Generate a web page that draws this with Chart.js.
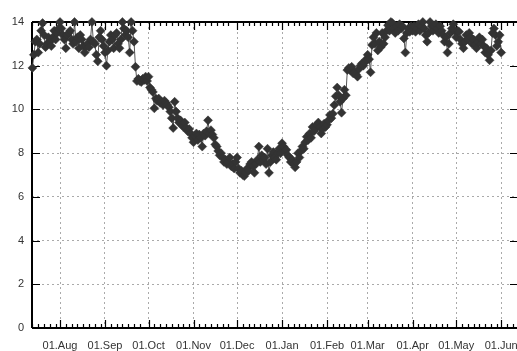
<!DOCTYPE html>
<html>
<head>
<meta charset="utf-8">
<script src="https://cdn.jsdelivr.net/npm/chart.js@4/dist/chart.umd.min.js"></script>
<style>
  html, body { margin: 0; padding: 0; background: #fff; overflow: hidden; }
  #wrap { width: 517px; height: 351px; overflow: hidden; }
</style>
</head>
<body>
<div id="wrap"><canvas id="chart" width="540" height="351"></canvas></div>
<script>
// day numbers counted from 01.Aug
const monthStarts = [0, 31, 61, 92, 122, 153, 184, 212, 243, 273, 304];
const monthLabels = ['01.Aug', '01.Sep', '01.Oct', '01.Nov', '01.Dec', '01.Jan', '01.Feb', '01.Mar', '01.Apr', '01.May', '01.Jun'];
const yTicks = [0, 2, 4, 6, 8, 10, 12, 14];

// daily values, one array per month
const jul = [11.9, 12.5, 13.1, 13.2, 12.6, 13.0, 13.6, 13.95, 13.4, 12.85, 13.0, 13.3, 13.1, 12.9, 13.3, 13.6, 13.2, 13.5, 13.7]; // from 13.Jul
const aug = [14.0, 13.7, 13.4, 13.2, 12.8, 13.4, 13.5, 13.6, 13.2, 13.0, 14.0, 13.1, 13.3, 12.8, 13.4, 13.2,
             12.9, 12.6, 12.9, 13.0, 12.85, 13.2, 14.0, 13.1, 13.0, 12.5, 12.2, 13.3, 13.6, 13.2, 12.9];
const sep = [12.6, 12.0, 12.7, 13.1, 13.4, 13.2, 12.8, 13.4, 13.5, 13.0, 12.8, 13.2, 14.0, 13.7, 13.4,
             13.6, 13.3, 12.6, 14.0, 13.6, 13.1, 11.95, 11.3, 11.4, 11.3, 11.25, 11.4, 11.35, 11.5, 11.3];
const oct = [11.5, 11.0, 10.9, 10.8, 10.05, 10.5, 10.4, 10.5, 10.3, 10.35, 10.2, 10.4, 10.3, 10.2, 10.1, 9.9,
             9.6, 9.15, 10.35, 9.9, 9.6, 9.4, 9.5, 9.3, 9.2, 9.4, 9.15, 9.0, 9.1, 8.9, 8.7];
const nov = [8.5, 8.8, 8.9, 8.6, 8.85, 8.7, 8.3, 8.9, 8.8, 9.0, 9.5, 8.9, 9.05, 8.85, 8.7,
             8.4, 8.3, 8.1, 7.9, 8.0, 7.8, 7.6, 7.7, 7.5, 7.6, 7.8, 7.4, 7.5, 7.3, 7.6];
const dec = [7.8, 7.3, 7.1, 7.2, 7.0, 6.95, 7.1, 7.3, 7.2, 7.5, 7.6, 7.4, 7.1, 7.5, 7.7, 8.3,
             7.6, 7.9, 7.7, 7.8, 7.5, 8.2, 7.1, 7.6, 7.9, 8.05, 7.8, 7.7, 8.0, 8.2, 8.0];
const jan = [8.45, 8.3, 8.1, 8.15, 7.9, 7.8, 7.6, 7.7, 7.5, 7.35, 7.6, 8.0, 7.8, 8.1, 8.3, 8.2,
             8.5, 8.75, 8.6, 8.9, 8.7, 9.2, 9.0, 9.1, 9.3, 9.4, 9.2, 8.9, 9.1, 9.35, 9.2];
const feb = [9.3, 9.5, 9.75, 9.6, 9.8, 10.2, 10.6, 11.0, 10.65, 10.35, 9.85, 10.5, 10.9, 10.65,
             11.8, 11.9, 11.8, 11.95, 11.65, 11.7, 11.6, 11.5, 11.85, 12.0, 12.1, 12.0, 12.15, 12.3];
const mar = [12.5, 12.3, 11.7, 12.95, 13.3, 13.0, 13.5, 12.7, 13.1, 12.85, 13.5, 13.0, 13.3, 13.6, 13.85, 13.6,
             14.0, 13.95, 13.7, 13.5, 13.8, 13.6, 13.9, 13.7, 13.8, 13.25, 12.6, 13.5, 13.7, 13.55, 13.8];
const apr = [13.6, 13.8, 13.55, 13.7, 13.9, 13.6, 13.8, 14.0, 13.7, 13.4, 13.1, 13.5, 14.0, 13.8, 13.6,
             13.8, 13.9, 13.7, 13.5, 13.8, 13.6, 13.4, 13.1, 13.3, 12.6, 13.0, 13.5, 13.7, 13.9, 13.6];
const may = [13.3, 13.6, 13.55, 13.2, 13.0, 12.8, 13.1, 13.4, 13.2, 13.5, 13.3, 13.0, 13.2, 12.95, 12.8, 13.1,
             13.3, 13.0, 13.2, 12.9, 12.6, 12.8, 12.5, 12.25, 12.7, 13.5, 13.7, 13.4, 12.9, 13.1, 13.4];
const jun = [12.6];

const months = [
  { start: -19, vals: jul },
  { start: 0, vals: aug },
  { start: 31, vals: sep },
  { start: 61, vals: oct },
  { start: 92, vals: nov },
  { start: 122, vals: dec },
  { start: 153, vals: jan },
  { start: 184, vals: feb },
  { start: 212, vals: mar },
  { start: 243, vals: apr },
  { start: 273, vals: may },
  { start: 304, vals: jun }
];

const points = [];
months.forEach(m => m.vals.forEach((v, i) => points.push({ x: m.start + i, y: v })));

// gnuplot style frame with inward ticks
const framePlugin = {
  id: 'frame',
  beforeDatasetsDraw(chart) {
    const { ctx, chartArea: a, scales } = chart;
    const xs = scales.x, ys = scales.y;
    ctx.save();
    ctx.strokeStyle = '#000';
    ctx.lineWidth = 1.2;
    ctx.beginPath();
    yTicks.forEach(v => {
      const py = Math.round(ys.getPixelForValue(v)) + 0.5;
      ctx.moveTo(a.left, py); ctx.lineTo(a.left + 8, py);
      ctx.moveTo(a.right, py); ctx.lineTo(a.right - 8, py);
    });
    const starts = [-31].concat(monthStarts);
    starts.forEach((s, k) => {
      const next = k + 1 < starts.length ? starts[k + 1] : s + 30;
      if (s >= xs.min) {
        const px = Math.round(xs.getPixelForValue(s)) + 0.5;
        ctx.moveTo(px, a.bottom); ctx.lineTo(px, a.bottom - 8);
        ctx.moveTo(px, a.top); ctx.lineTo(px, a.top + 8);
      }
      for (let d = s + 4; d < next - 2; d += 4) {
        if (d < xs.min || d > xs.max) continue;
        const px = Math.round(xs.getPixelForValue(d)) + 0.5;
        ctx.moveTo(px, a.bottom); ctx.lineTo(px, a.bottom - 4);
        ctx.moveTo(px, a.top); ctx.lineTo(px, a.top + 4);
      }
    });
    ctx.stroke();
    ctx.lineWidth = 2;
    ctx.beginPath();
    ctx.moveTo(a.left, a.top); ctx.lineTo(a.right, a.top);
    ctx.moveTo(a.left, a.top); ctx.lineTo(a.left, a.bottom);
    ctx.moveTo(a.left, a.bottom); ctx.lineTo(a.right, a.bottom);
    ctx.moveTo(a.right, a.top); ctx.lineTo(a.right, a.bottom);
    ctx.stroke();
    ctx.restore();
  }
};

new Chart(document.getElementById('chart'), {
  type: 'line',
  data: {
    datasets: [{
      data: points,
      borderColor: '#555',
      borderWidth: 1,
      pointStyle: 'rectRot',
      pointRadius: 4.5,
      pointBackgroundColor: '#333',
      pointBorderColor: '#333',
      pointBorderWidth: 0.5,
      tension: 0,
      clip: false
    }]
  },
  options: {
    responsive: false,
    devicePixelRatio: 1,
    animation: false,
    layout: { padding: { top: 22, right: 22, left: 0, bottom: 0 } },
    plugins: { legend: { display: false }, tooltip: { enabled: false } },
    scales: {
      x: {
        type: 'linear',
        min: -19.3,
        max: 315.6,
        afterFit: s => { s.height = 23; },
        afterBuildTicks: s => { s.ticks = monthStarts.map(v => ({ value: v })); },
        border: { display: false, dash: [2, 3] },
        grid: { color: '#aaa', lineWidth: 1, drawTicks: false },
        ticks: {
          autoSkip: false,
          maxRotation: 0,
          padding: 11,
          color: '#333',
          font: { family: 'Liberation Sans, Arial, sans-serif', size: 11 },
          callback: v => monthLabels[monthStarts.indexOf(v)]
        }
      },
      y: {
        min: 0,
        max: 14,
        afterFit: s => { s.width = 32; },
        border: { display: false, dash: [2, 3] },
        grid: { color: '#aaa', lineWidth: 1, drawTicks: false },
        ticks: {
          stepSize: 2,
          padding: 8,
          color: '#333',
          font: { family: 'Liberation Sans, Arial, sans-serif', size: 11 }
        }
      }
    }
  },
  plugins: [framePlugin]
});
</script>
</body>
</html>
